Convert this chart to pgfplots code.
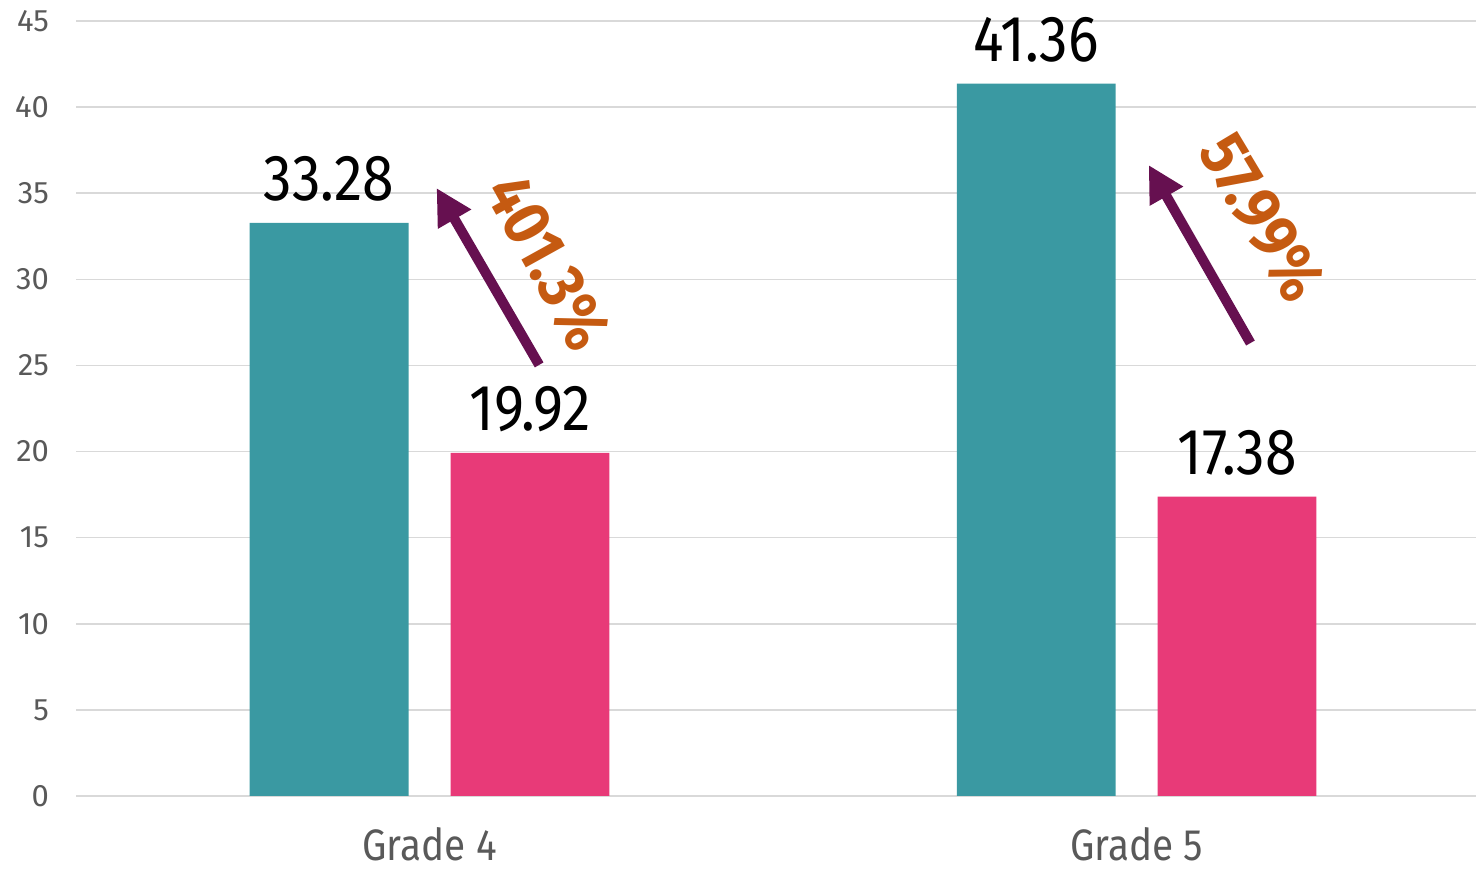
\documentclass[border=0pt]{standalone}
\usepackage{fontspec}
\setmainfont[FakeStretch=0.88]{Fira Sans}
\newfontfamily\tickfont{Fira Sans}
\usepackage{pgfplots}
\pgfplotsset{compat=1.18}
\usetikzlibrary{arrows.meta}
\definecolor{barTeal}{HTML}{3A99A2}
\definecolor{barPink}{HTML}{E83A78}
\definecolor{arrPurple}{HTML}{661050}
\definecolor{pctOrange}{HTML}{C55A11}
\definecolor{tickGray}{HTML}{595959}
\definecolor{gridGray}{HTML}{D9D9D9}
\begin{document}
\begin{tikzpicture}
\begin{axis}[
    scale only axis,
    width=700pt, height=387.5pt,
    xmin=-0.5, xmax=1.48,
    ymin=0, ymax=45,
    ytick={0,5,...,45},
    xtick={0,1},
    xticklabels={Grade 4, Grade 5},
    ymajorgrids,
    grid style={gridGray, line width=0.8pt},
    axis line style={draw=none},
    major tick length=0pt,
    /pgf/number format/assume math mode=true,
    yticklabel style={font=\tickfont\fontsize{15.5}{17}\selectfont, text=tickGray, xshift=-10pt},
    xticklabel style={font=\fontsize{22}{24}\selectfont, text=tickGray, yshift=-12pt},
    clip=false,
    bar width=0.2246,
    nodes near coords,
    every node near coord/.append style={font=\fontsize{32.5}{34}\selectfont, text=black, yshift=7pt},
]
% teal bars
\addplot[ybar, fill=barTeal, draw=none] coordinates {(-0.142,33.28) (0.858,41.36)};
% pink bars
\addplot[ybar, fill=barPink, draw=none] coordinates {(0.142,19.92) (1.142,17.38)};

% growth arrows
\draw[arrPurple, line width=5pt, -{Triangle[length=18pt, width=18pt]}]
    (axis cs:0.155,25.03) -- (axis cs:0.0099,35.3);
\draw[arrPurple, line width=5pt, -{Triangle[length=18pt, width=18pt]}]
    (axis cs:1.161,26.3) -- (axis cs:1.017,36.64);

\node[rotate=-61, text=pctOrange, font=\bfseries\fontsize{33}{35}\selectfont]
    at (axis cs:0.168,31.0) {401.3\%};
\node[rotate=-59, text=pctOrange, font=\bfseries\fontsize{33}{35}\selectfont]
    at (axis cs:1.178,33.6) {57.99\%};

\coordinate (bl) at (rel axis cs:0,0);
\coordinate (tr) at (rel axis cs:1,1);
\end{axis}
\pgfresetboundingbox
\path (bl) ++(-38pt,-36.5pt) rectangle (tr) ++(0pt,10.5pt);
\end{tikzpicture}
\end{document}
